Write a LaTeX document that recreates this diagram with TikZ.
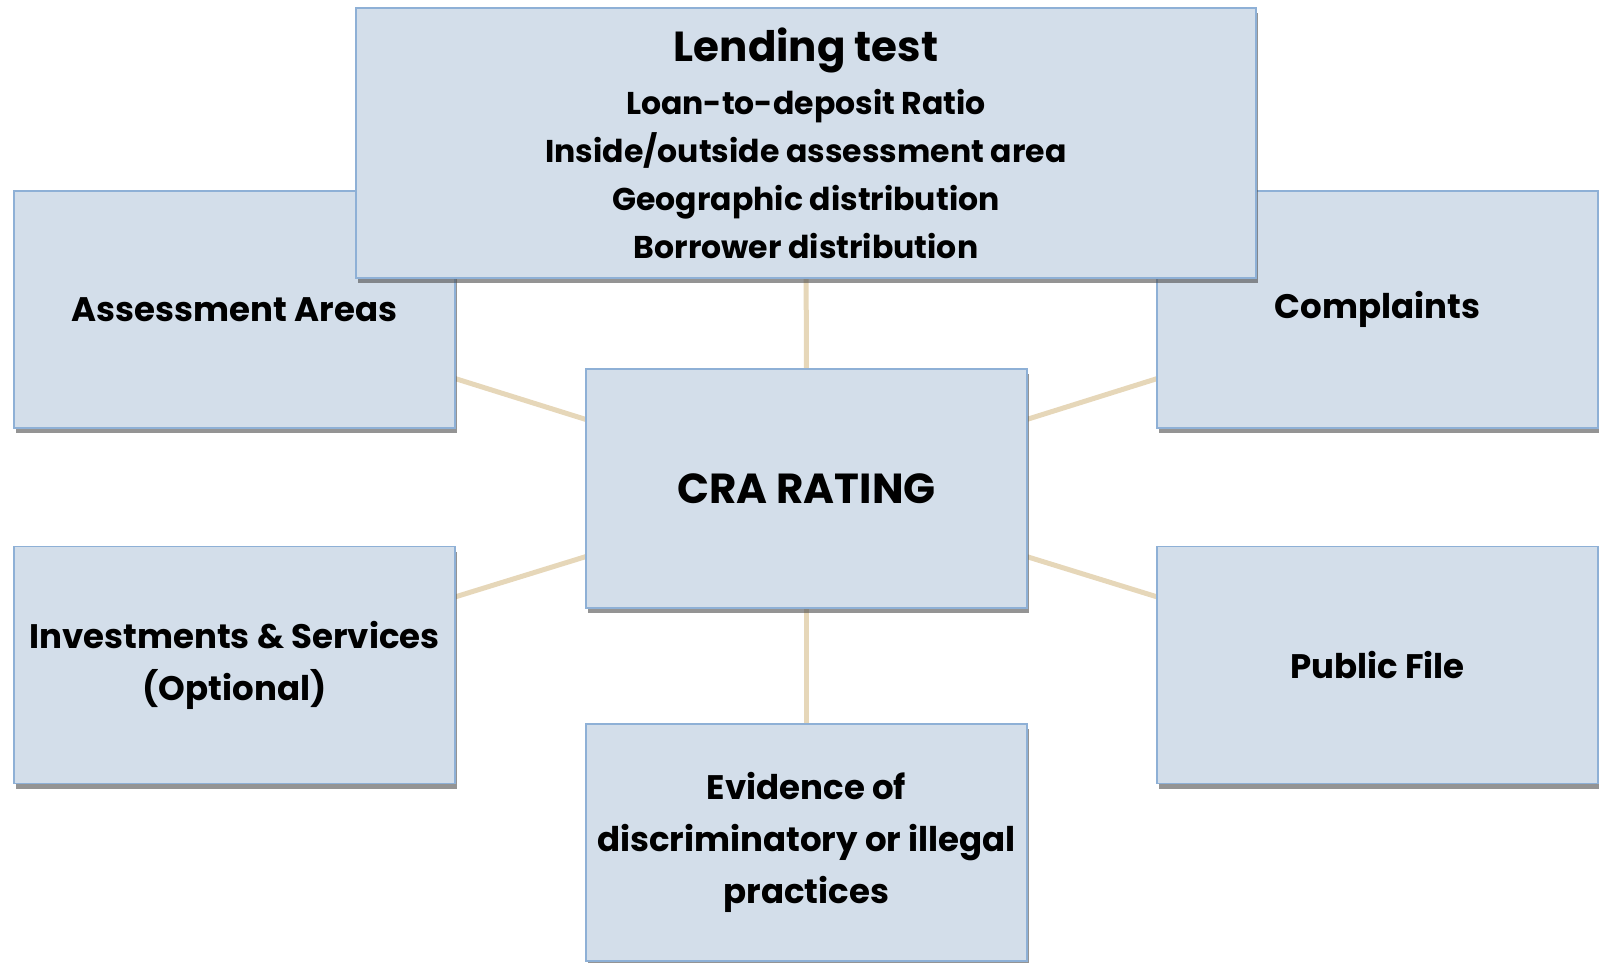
\documentclass[tikz,border=0pt]{standalone}
\usepackage{fontspec}
\setmainfont{Poppins}
\usetikzlibrary{shadows,backgrounds}
\definecolor{boxfill}{HTML}{D3DEEA}
\definecolor{boxline}{HTML}{8EB0D6}
\definecolor{linkcol}{HTML}{E6D7B9}
\tikzset{
  card/.style={rectangle, draw=boxline, line width=1.8pt, fill=boxfill,
    inner sep=0pt, align=center, text=black,
    minimum width=441pt, minimum height=237pt,
    font=\bfseries\fontsize{34}{52}\selectfont,
    drop shadow={shadow xshift=2pt, shadow yshift=-5pt, fill=black!70, opacity=0.6}},
  link/.style={draw=linkcol, line width=5pt}
}
\begin{document}
\begin{tikzpicture}[x=1pt,y=-1pt]
\useasboundingbox (0,0) rectangle (1599,962);
\begin{scope}
\clip (0,0) rectangle (1599,962);
\node[card] (areas) at (234.5,309.5) {Assessment Areas};
\node[card] (compl) at (1377.5,309.5) {Complaints};
\node[card, minimum width=900pt, minimum height=270pt,
      font=\bfseries\fontsize{31.5}{48}\selectfont] (lend) at (806,143)
  {{\fontsize{42}{42}\selectfont Lending test}\\[5pt]
   Loan-to-deposit Ratio\\
   Inside/outside assessment area\\
   Geographic distribution\\
   Borrower distribution};
\node[card, minimum height=239pt, font=\bfseries\fontsize{42}{52}\selectfont] (cra) at (806.5,488.5) {CRA RATING};
\node[card] (inv) at (234.5,665) {Investments \& Services\\(Optional)};
\node[card] (pub) at (1377.5,665) {Public File};
\node[card] (evid) at (806.5,842.5) {Evidence of\\discriminatory or illegal\\practices};
\begin{pgfonlayer}{background}
\draw[link] (cra.center) -- (lend.center);
\draw[link] (cra.center) -- (areas.center);
\draw[link] (cra.center) -- (compl.center);
\draw[link] (cra.center) -- (inv.center);
\draw[link] (cra.center) -- (pub.center);
\draw[link] (cra.center) -- (evid.center);
\end{pgfonlayer}
\end{scope}
\end{tikzpicture}
\end{document}
